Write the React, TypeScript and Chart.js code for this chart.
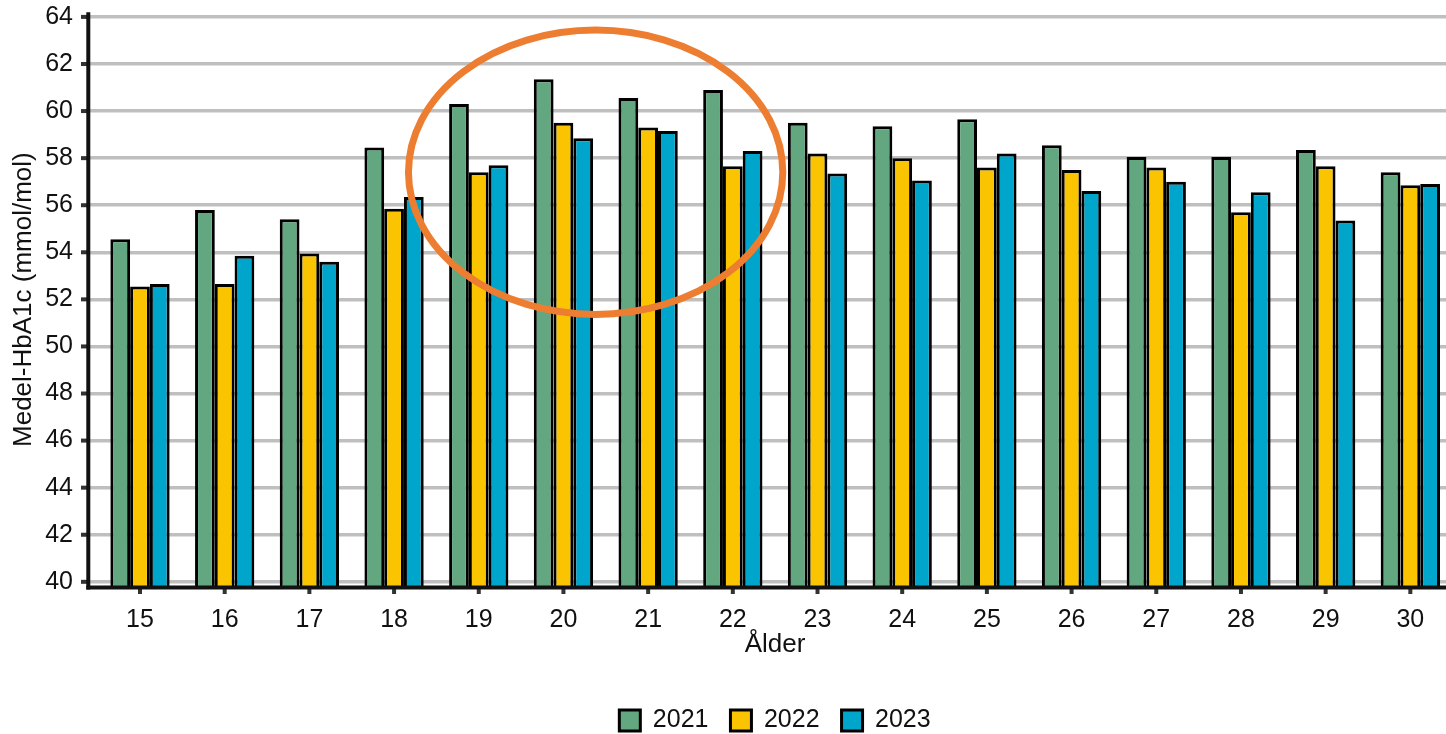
import React, { useEffect, useRef } from "react";
import { Chart, registerables } from "chart.js";

Chart.register(...registerables);

// ---- data ----
const AGES = [15, 16, 17, 18, 19, 20, 21, 22, 23, 24, 25, 26, 27, 28, 29, 30];
const SERIES_LABELS = ["2021", "2022", "2023"];
const V2021 = [54.55, 55.8, 55.4, 58.45, 60.3, 61.35, 60.55, 60.9, 59.5, 59.35, 59.65, 58.55, 58.05, 58.05, 58.35, 57.4];
const V2022 = [52.55, 52.65, 53.95, 55.85, 57.4, 59.5, 59.3, 57.65, 58.2, 58.0, 57.6, 57.5, 57.6, 55.7, 57.65, 56.85];
const V2023 = [52.65, 53.85, 53.6, 56.35, 57.7, 58.85, 59.15, 58.3, 57.35, 57.05, 58.2, 56.6, 57.0, 56.55, 55.35, 56.9];
const Y_TICKS = [40, 42, 44, 46, 48, 50, 52, 54, 56, 58, 60, 62, 64];

const X_TITLE = "Ålder";
const Y_TITLE = "Medel-HbA1c (mmol/mol)";

// ---- styling / ranges ----
const COLORS = ["#62A780", "#FAC500", "#00A5CB"];
const X_MIN = 14.386;
const X_MAX = 30.61;
const Y_MIN = 39.78;
const Y_MAX = 64.2;
// highlight ellipse in data units (centre age/value, half extents)
const HIGHLIGHT = { age: 20.38, value: 57.4, halfAge: 2.21, halfValue: 6.04 };

const FONT = "'Liberation Sans', Arial, Helvetica, sans-serif";
const TEXT = "#111111";

export default function App() {
  const ref = useRef<HTMLCanvasElement | null>(null);

  useEffect(() => {
    if (!ref.current) return;
    Chart.defaults.font.family = FONT;

    const decorations = {
      id: "decorations",
      afterDatasetsDraw(chart: any) {
        const { ctx, chartArea, scales } = chart;
        const xs = scales.x;
        const ys = scales.y;
        ctx.save();
        // tick marks
        ctx.strokeStyle = "#333333";
        ctx.lineWidth = 4;
        ctx.lineCap = "butt";
        Y_TICKS.forEach((v) => {
          const py = ys.getPixelForValue(v);
          ctx.beginPath();
          ctx.moveTo(chartArea.left - 7, py);
          ctx.lineTo(chartArea.left, py);
          ctx.stroke();
        });
        AGES.forEach((a) => {
          const px = xs.getPixelForValue(a);
          ctx.beginPath();
          ctx.moveTo(px, chartArea.bottom);
          ctx.lineTo(px, chartArea.bottom + 7);
          ctx.stroke();
        });
        // axis lines
        ctx.strokeStyle = "#111111";
        ctx.lineWidth = 4;
        ctx.beginPath();
        ctx.moveTo(chartArea.left + 0.3, chartArea.top);
        ctx.lineTo(chartArea.left + 0.3, chartArea.bottom + 2.5);
        ctx.stroke();
        ctx.beginPath();
        ctx.moveTo(chartArea.left - 1.7, chartArea.bottom + 0.5);
        ctx.lineTo(chartArea.right, chartArea.bottom + 0.5);
        ctx.stroke();
        // highlight ellipse
        const cx = xs.getPixelForValue(HIGHLIGHT.age);
        const cy = ys.getPixelForValue(HIGHLIGHT.value);
        const rx = Math.abs(xs.getPixelForValue(HIGHLIGHT.age + HIGHLIGHT.halfAge) - cx);
        const ry = Math.abs(ys.getPixelForValue(HIGHLIGHT.value + HIGHLIGHT.halfValue) - cy);
        ctx.strokeStyle = "#ED7D31";
        ctx.lineWidth = 7;
        ctx.beginPath();
        ctx.ellipse(cx, cy, rx, ry, 0, 0, Math.PI * 2);
        ctx.stroke();
        ctx.restore();
      },
    };

    const series = [V2021, V2022, V2023];
    const chart = new Chart(ref.current, {
      type: "bar",
      data: {
        datasets: series.map((vals, i) => ({
          label: SERIES_LABELS[i],
          data: AGES.map((a, j) => ({ x: a, y: vals[j] })),
          backgroundColor: COLORS[i],
          borderColor: "#000000",
          borderWidth: 3,
          borderSkipped: "start",
          categoryPercentage: 0.7,
          barPercentage: 1.0,
        })),
      },
      options: {
        animation: false,
        responsive: false,
        devicePixelRatio: 1,
        layout: { padding: { top: 12.2, left: 0, right: 0, bottom: 0 } },
        plugins: {
          legend: {
            position: "bottom",
            fullSize: false,
            labels: {
              font: { size: 25, family: FONT },
              color: TEXT,
              boxWidth: 21,
              boxHeight: 21,
              padding: 22,
            },
          },
          tooltip: { enabled: false },
        },
        scales: {
          x: {
            type: "linear",
            min: X_MIN,
            max: X_MAX,
            offset: false,
            grid: { display: false },
            border: { display: false },
            afterBuildTicks: (s: any) => {
              s.ticks = AGES.map((v) => ({ value: v }));
            },
            afterFit: (s: any) => {
              s.height = 99;
              s.paddingLeft = 0;
              s.paddingRight = 0;
            },
            ticks: {
              font: { size: 25, family: FONT },
              color: TEXT,
              padding: 10,
              maxRotation: 0,
              autoSkip: false,
              callback: (v: any) => String(v),
            },
            title: {
              display: true,
              text: X_TITLE,
              font: { size: 26, family: FONT },
              color: TEXT,
              padding: { top: 0, bottom: 25.4 },
            },
          },
          y: {
            type: "linear",
            min: Y_MIN,
            max: Y_MAX,
            grid: { color: "#BFBFBF", lineWidth: 3.5, drawTicks: false },
            border: { display: false },
            afterBuildTicks: (s: any) => {
              s.ticks = Y_TICKS.map((v) => ({ value: v }));
            },
            afterFit: (s: any) => {
              s.width = 88;
              s.paddingTop = 0;
              s.paddingBottom = 0;
            },
            ticks: {
              font: { size: 25, family: FONT },
              color: TEXT,
              padding: 15,
              autoSkip: false,
              callback: (v: any) => String(v),
            },
            title: {
              display: true,
              text: Y_TITLE,
              font: { size: 26, family: FONT },
              color: TEXT,
              padding: { top: 8.4, bottom: 0 },
            },
          },
        },
      },
      plugins: [decorations],
    });
    return () => chart.destroy();
  }, []);

  return (
    <div
      style={{
        position: "absolute",
        left: 0,
        top: 0,
        width: 1446,
        height: 734,
        overflow: "hidden",
        background: "#ffffff",
      }}
    >
      <canvas ref={ref} width={1462} height={743} style={{ display: "block", width: 1462, height: 743 }} />
    </div>
  );
}
